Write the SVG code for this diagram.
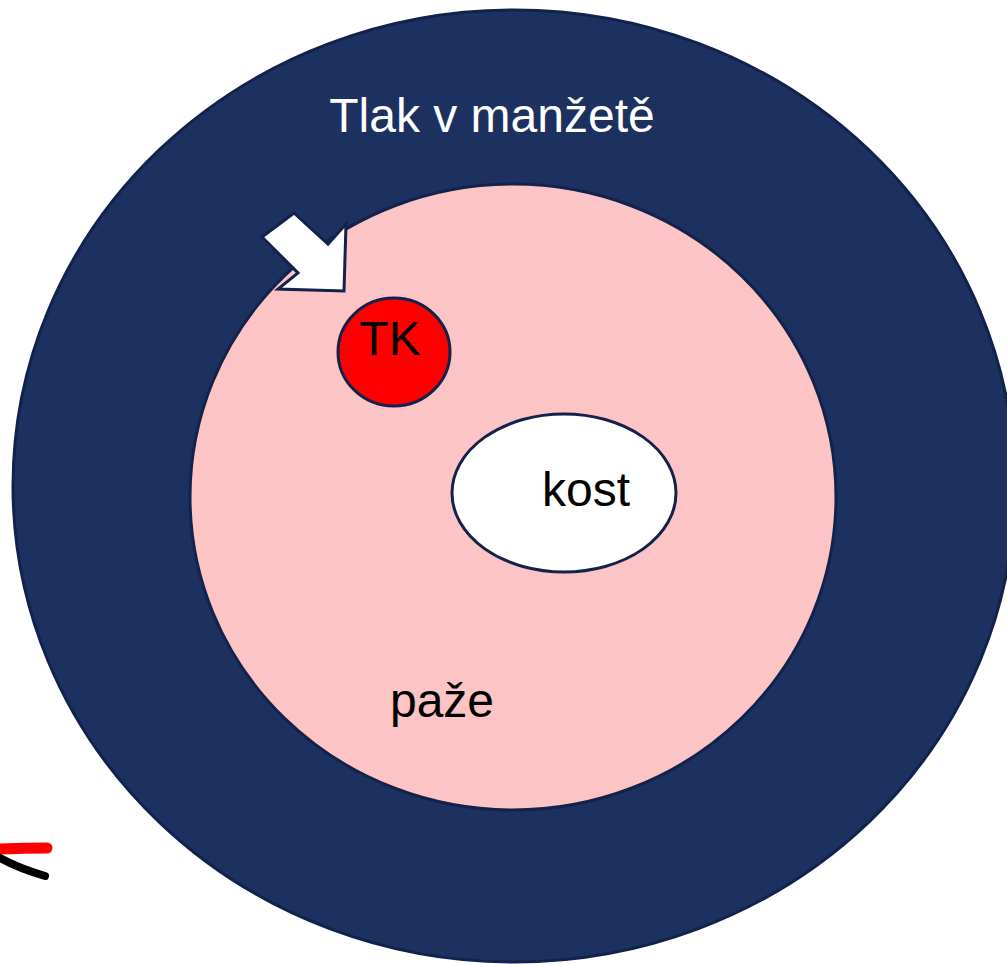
<svg xmlns="http://www.w3.org/2000/svg" width="1007" height="964" viewBox="0 0 1007 964">
<style>
.ol{stroke:#13224a;stroke-width:3}
.t{font-family:"Liberation Sans",Arial,sans-serif;font-size:48px;text-anchor:middle}
</style>
<rect width="1007" height="964" fill="#ffffff"/>
<g id="cuff">
<ellipse cx="514" cy="486" rx="501" ry="476" fill="#1c3160" class="ol"/>
<text class="t" x="492" y="132" fill="#ffffff">Tlak v manžetě</text>
</g>
<g id="arm">
<ellipse cx="513" cy="497" rx="323" ry="313" fill="#fcc4c5" class="ol"/>
<text class="t" x="442" y="717" fill="#000000">paže</text>
</g>
<g id="bone">
<ellipse cx="564" cy="493" rx="112" ry="79" fill="#ffffff" class="ol"/>
<text class="t" x="586" y="506" fill="#000000">kost</text>
</g>
<g id="tk">
<ellipse cx="394" cy="352" rx="56" ry="54" fill="#ff0000" class="ol"/>
<text class="t" x="390" y="355" fill="#000000">TK</text>
</g>
<g id="connectors">
<polygon points="294,213 328,244 346,224 344,291 278,289 298,273 262,237" fill="#ffffff" class="ol" stroke-linejoin="miter"/>
</g>
<g id="marks" fill="none" stroke-linecap="round">
<path d="M0,849 Q25,848 47,848" stroke="#ff0000" stroke-width="11"/>
<path d="M0,858 Q18,868 45,876" stroke="#000000" stroke-width="8"/>
</g>
</svg>
